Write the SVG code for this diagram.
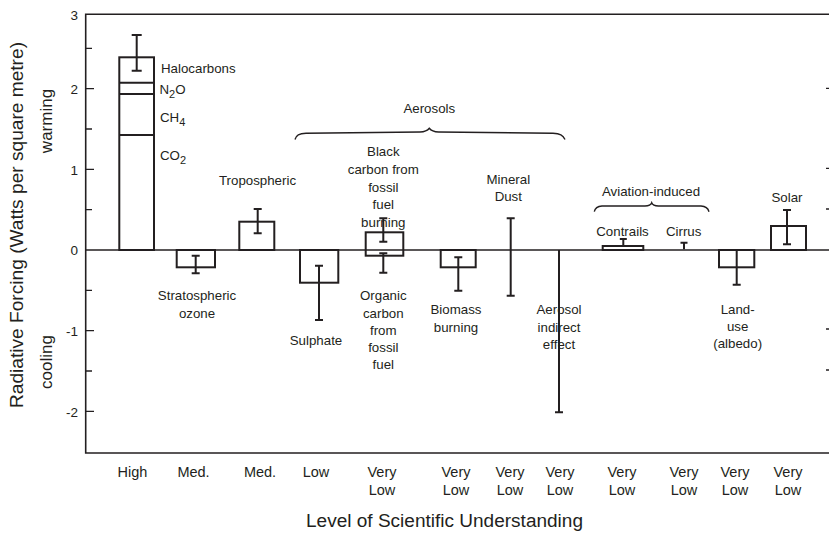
<svg xmlns="http://www.w3.org/2000/svg" width="829" height="533" viewBox="0 0 829 533">
<style>
text{font-family:"Liberation Sans",Arial,sans-serif;fill:#231f20}
.lbl{font-size:13.3px;text-anchor:middle}
.lft{font-size:13.3px}
.num{font-size:13.5px;text-anchor:end}
.lvl{font-size:14.5px;text-anchor:middle}
.big{font-size:18px;text-anchor:middle}
.side{font-size:17px;text-anchor:middle}
.bar{fill:#fff;stroke:#231f20;stroke-width:2}
.err{fill:none;stroke:#231f20;stroke-width:2}
.ax{fill:none;stroke:#231f20;stroke-width:1.6}
.tk{fill:none;stroke:#231f20;stroke-width:1.3}
.brace{fill:none;stroke:#231f20;stroke-width:1.4}
</style>
<rect x="0" y="0" width="829" height="533" fill="#fff"/>
<g id="axes">
<path class="ax" d="M829,14.3 H85.7 V453 H829"/>
<path class="tk" d="M85.7,48.3 H92 M85.7,88.6 H94 M85.7,129 H92 M85.7,169.3 H94 M85.7,209.7 H92 M85.7,290.4 H92 M85.7,330.7 H94 M85.7,371 H92 M85.7,411.4 H94"/>
<path class="tk" d="M826,88.3 H829 M826,168.3 H829 M826,209 H829 M826,329 H829 M826,370 H829"/>
<text class="num" x="78" y="20">3</text>
<text class="num" x="78" y="94">2</text>
<text class="num" x="78" y="174.5">1</text>
<text class="num" x="78" y="255">0</text>
<text class="num" x="78" y="336">-1</text>
<text class="num" x="78" y="416.5">-2</text>
<text class="big" transform="translate(23,225) rotate(-90)" textLength="366" lengthAdjust="spacingAndGlyphs">Radiative Forcing (Watts per square metre)</text>
<text class="side" transform="translate(52,121) rotate(-90)">warming</text>
<text class="side" transform="translate(52,362) rotate(-90)">cooling</text>
<text class="big" x="444.5" y="527" textLength="277" lengthAdjust="spacingAndGlyphs">Level of Scientific Understanding</text>
</g>
<g id="ghg">
<rect class="bar" x="119.3" y="57.3" width="34.7" height="192.7"/>
<path class="err" d="M119.3,82.7 H154 M119.3,94 H154 M119.3,135 H154"/>
<path class="err" d="M136.7,35 V70.7 M131.7,35 H141.7 M131.7,70.7 H141.7"/>
<text class="lft" x="161" y="73">Halocarbons</text>
<text class="lft" x="159.5" y="94">N<tspan font-size="11" dy="4">2</tspan><tspan dy="-4">O</tspan></text>
<text class="lft" x="160" y="122">CH<tspan font-size="11" dy="4">4</tspan></text>
<text class="lft" x="160" y="159.5">CO<tspan font-size="11" dy="4">2</tspan></text>
<text class="lvl" x="132.5" y="477">High</text>
</g>
<g id="strat-ozone">
<rect class="bar" x="176.7" y="250" width="38.3" height="17.3"/>
<path class="err" d="M195.7,255.7 V273.3 M191.7,255.7 H199.7 M191.7,273.3 H199.7"/>
<text class="lbl" x="197" y="300">Stratospheric</text>
<text class="lbl" x="197" y="317.5">ozone</text>
<text class="lvl" x="193.5" y="477">Med.</text>
</g>
<g id="tropo-ozone">
<rect class="bar" x="239.3" y="221.7" width="35" height="28.3"/>
<path class="err" d="M257.7,209 V233.3 M253.7,209 H261.7 M253.7,233.3 H261.7"/>
<text class="lbl" x="257.5" y="185">Tropospheric</text>
<text class="lvl" x="260" y="477">Med.</text>
</g>
<g id="sulphate">
<rect class="bar" x="300" y="250" width="38.3" height="32.7"/>
<path class="err" d="M319,265.7 V320 M315,265.7 H323 M315,320 H323"/>
<text class="lbl" x="316" y="345">Sulphate</text>
<text class="lvl" x="316" y="477">Low</text>
</g>
<g id="carbon">
<rect class="bar" x="365.7" y="232.3" width="37.6" height="23.4"/>
<path class="err" d="M383.3,218.3 V241.7 M379.3,218.3 H387.3 M379.3,241.7 H387.3"/>
<path class="err" d="M383.3,253.3 V272.7 M379.3,253.3 H387.3 M379.3,272.7 H387.3"/>
<text class="lbl" x="383.3" y="156">Black</text>
<text class="lbl" x="383.3" y="174">carbon from</text>
<text class="lbl" x="383.3" y="191.5">fossil</text>
<text class="lbl" x="383.3" y="208.5">fuel</text>
<text class="lbl" x="383.3" y="226.5">burning</text>
<text class="lbl" x="383.3" y="300">Organic</text>
<text class="lbl" x="383.3" y="317.5">carbon</text>
<text class="lbl" x="383.3" y="335">from</text>
<text class="lbl" x="383.3" y="352">fossil</text>
<text class="lbl" x="383.3" y="369">fuel</text>
<text class="lvl" x="382" y="477">Very</text>
<text class="lvl" x="382" y="495">Low</text>
</g>
<g id="biomass">
<rect class="bar" x="440.7" y="250" width="35" height="17.3"/>
<path class="err" d="M458.3,257.3 V290.7 M454.3,257.3 H462.3 M454.3,290.7 H462.3"/>
<text class="lbl" x="456" y="314">Biomass</text>
<text class="lbl" x="456" y="332">burning</text>
<text class="lvl" x="456" y="477">Very</text>
<text class="lvl" x="456" y="495">Low</text>
</g>
<g id="mineral-dust">
<path class="err" d="M510.7,218.3 V295.7 M506.7,218.3 H514.7 M506.7,295.7 H514.7"/>
<text class="lbl" x="508.3" y="184">Mineral</text>
<text class="lbl" x="508.3" y="201">Dust</text>
<text class="lvl" x="510" y="477">Very</text>
<text class="lvl" x="510" y="495">Low</text>
</g>
<g id="aerosol-indirect">
<path class="err" d="M559,250 V412.3 M555,412.3 H563"/>
<text class="lbl" x="559" y="314">Aerosol</text>
<text class="lbl" x="559" y="332">indirect</text>
<text class="lbl" x="559" y="349">effect</text>
<text class="lvl" x="560" y="477">Very</text>
<text class="lvl" x="560" y="495">Low</text>
</g>
<g id="aerosols-brace">
<path class="brace" d="M295,139.5 C296,135 299,133.5 306,133.3 L420,132 C426,131.8 428,130 429.3,128.3 C430.6,130 432.6,131.8 438.6,132 L553,133.3 C560,133.5 563,135 565,139.5"/>
<text class="lbl" x="429.3" y="113">Aerosols</text>
</g>
<g id="contrails">
<rect class="bar" x="602.7" y="246" width="40.6" height="4"/>
<path class="err" d="M623.3,239 V246 M619.8,239 H626.8"/>
<text class="lbl" x="622.5" y="235.5">Contrails</text>
<text class="lvl" x="622" y="477">Very</text>
<text class="lvl" x="622" y="495">Low</text>
</g>
<g id="cirrus">
<path class="err" d="M684,242.7 V249.3 M680.5,242.7 H687.5"/>
<text class="lbl" x="683.7" y="235.5">Cirrus</text>
<text class="lvl" x="684" y="477">Very</text>
<text class="lvl" x="684" y="495">Low</text>
</g>
<g id="aviation-brace">
<path class="brace" d="M594.3,211.7 C595,208 597,206.2 602,206 L645,206 C649,205.8 651,204.5 651.7,202.7 C652.4,204.5 654.4,205.8 658.4,206 L701,206 C706,206.2 708,208 709,211.7"/>
<text class="lbl" x="651" y="195.5">Aviation-induced</text>
</g>
<g id="land-use">
<rect class="bar" x="719" y="250" width="35.3" height="17.3"/>
<path class="err" d="M736.7,250 V284.7 M732.7,284.7 H740.7"/>
<text class="lbl" x="737.7" y="314">Land-</text>
<text class="lbl" x="737.7" y="331">use</text>
<text class="lbl" x="737.7" y="348">(albedo)</text>
<text class="lvl" x="735" y="477">Very</text>
<text class="lvl" x="735" y="495">Low</text>
</g>
<g id="solar">
<rect class="bar" x="771" y="226" width="35" height="24"/>
<path class="err" d="M787,210 V244.3 M783,210 H791 M783,244.3 H791"/>
<text class="lbl" x="787" y="202">Solar</text>
<text class="lvl" x="788" y="477">Very</text>
<text class="lvl" x="788" y="495">Low</text>
</g>
<g id="zero-line">
<path class="ax" d="M85.7,250 H829"/>
</g>
</svg>
